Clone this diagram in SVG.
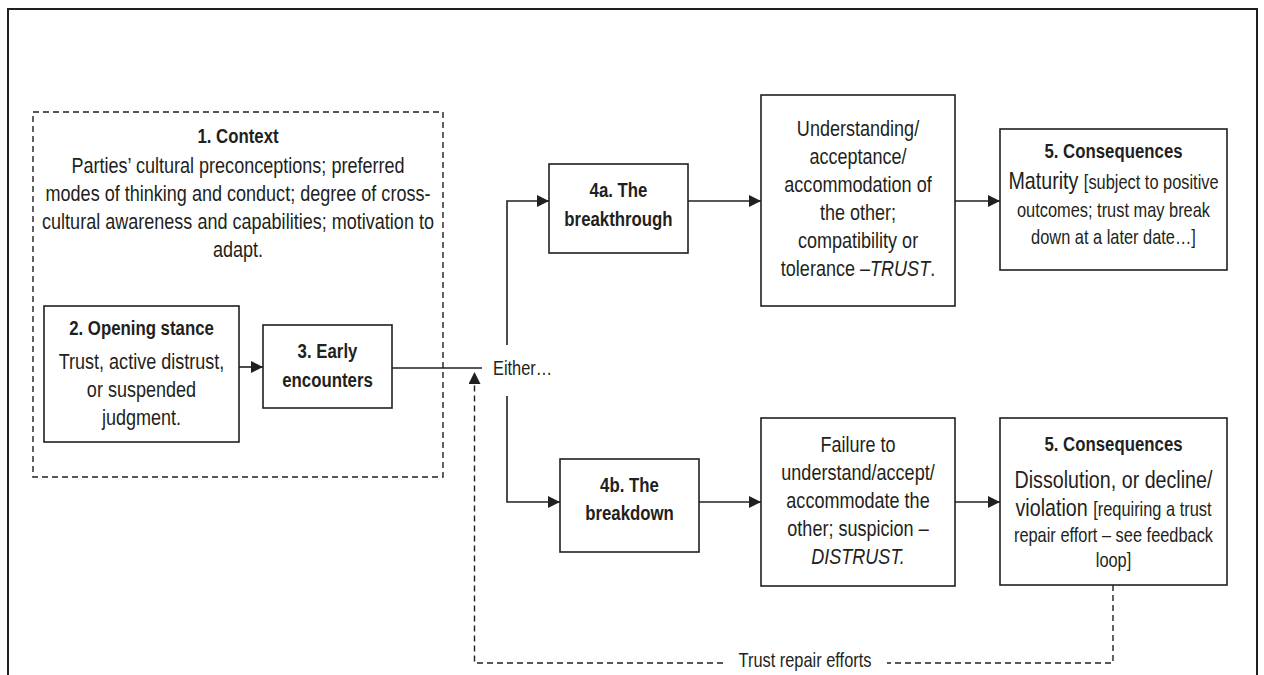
<svg xmlns="http://www.w3.org/2000/svg" width="1264" height="675" viewBox="0 0 1264 675">
<style>
text{font-family:"Liberation Sans",Arial,sans-serif;fill:#231f20;font-size:22px;text-anchor:middle}
.t{font-weight:bold;font-size:20.5px}
.s{font-size:20px}
.l{font-size:24px}
.i{font-style:italic}
.box{fill:#fff;stroke:#231f20;stroke-width:1.6}
.ln{fill:none;stroke:#231f20;stroke-width:1.6}
.dash{fill:none;stroke:#231f20;stroke-width:1.4;stroke-dasharray:6 4}
</style>
<defs>
<marker id="ah" markerUnits="userSpaceOnUse" markerWidth="13" markerHeight="13" refX="12" refY="6" orient="auto">
<path d="M0,0 L12,6 L0,12 z" fill="#231f20"/>
</marker>
</defs>
<rect x="0" y="0" width="1264" height="675" fill="#fff"/>
<rect x="8" y="9" width="1249" height="720" fill="none" stroke="#231f20" stroke-width="2"/>

<g id="context">
<rect x="33" y="112" width="410" height="365" fill="none" stroke="#231f20" stroke-width="1.4" stroke-dasharray="6 4"/>
<g transform="matrix(0.82 0 0 1 238 0)">
<text class="t" x="0" y="143">1. Context</text>
<text x="0" y="173">Parties’ cultural preconceptions; preferred</text>
<text x="0" y="201">modes of thinking and conduct; degree of cross-</text>
<text x="0" y="229">cultural awareness and capabilities; motivation to</text>
<text x="0" y="257">adapt.</text>
</g>
</g>

<g id="connectors">
<path class="ln" d="M239,367 H263" marker-end="url(#ah)"/>
<path class="ln" d="M392,368 H482"/>
<path class="ln" d="M507,345 V201 H549" marker-end="url(#ah)"/>
<path class="ln" d="M507,396 V502 H560" marker-end="url(#ah)"/>
<path class="ln" d="M688,201 H761" marker-end="url(#ah)"/>
<path class="ln" d="M955,201 H1000" marker-end="url(#ah)"/>
<path class="ln" d="M699,502 H761" marker-end="url(#ah)"/>
<path class="ln" d="M955,502 H1000" marker-end="url(#ah)"/>
<path class="dash" d="M1113,585 V663 H887"/>
<path class="dash" d="M723,663 H474.5 V372" marker-end="url(#ah)"/>
<text class="s" transform="matrix(0.82 0 0 1 493 0)" x="0" y="375" style="text-anchor:start">Either…</text>
<text class="s" transform="matrix(0.82 0 0 1 805 0)" x="0" y="667">Trust repair efforts</text>
</g>

<g id="opening">
<rect class="box" x="44" y="306" width="195" height="136"/>
<g transform="matrix(0.82 0 0 1 141.5 0)">
<text class="t" x="0" y="335">2. Opening stance</text>
<text x="0" y="369">Trust, active distrust,</text>
<text x="0" y="397">or suspended</text>
<text x="0" y="425">judgment.</text>
</g>
</g>

<g id="early">
<rect class="box" x="263" y="325" width="129" height="83"/>
<g transform="matrix(0.82 0 0 1 327.5 0)">
<text class="t" x="0" y="358">3. Early</text>
<text class="t" x="0" y="387">encounters</text>
</g>
</g>

<g id="breakthrough">
<rect class="box" x="549" y="164" width="139" height="89"/>
<g transform="matrix(0.82 0 0 1 618.5 0)">
<text class="t" x="0" y="197">4a. The</text>
<text class="t" x="0" y="226">breakthrough</text>
</g>
</g>

<g id="understanding">
<rect class="box" x="761" y="95" width="194" height="211"/>
<g transform="matrix(0.82 0 0 1 858 0)">
<text x="0" y="136">Understanding/</text>
<text x="0" y="164">acceptance/</text>
<text x="0" y="192">accommodation of</text>
<text x="0" y="220">the other;</text>
<text x="0" y="248">compatibility or</text>
<text x="0" y="276">tolerance –<tspan class="i">TRUST</tspan>.</text>
</g>
</g>

<g id="consequences-a">
<rect class="box" x="1000" y="129" width="227" height="141"/>
<g transform="matrix(0.82 0 0 1 1113.5 0)">
<text class="t" x="0" y="158">5. Consequences</text>
<text x="0" y="189"><tspan class="l">Maturity </tspan><tspan class="s">[subject to positive</tspan></text>
<text class="s" x="0" y="217">outcomes; trust may break</text>
<text class="s" x="0" y="244">down at a later date…]</text>
</g>
</g>

<g id="breakdown">
<rect class="box" x="560" y="459" width="139" height="93"/>
<g transform="matrix(0.82 0 0 1 629.5 0)">
<text class="t" x="0" y="492">4b. The</text>
<text class="t" x="0" y="520">breakdown</text>
</g>
</g>

<g id="failure">
<rect class="box" x="761" y="418" width="194" height="168"/>
<g transform="matrix(0.82 0 0 1 858 0)">
<text x="0" y="452">Failure to</text>
<text x="0" y="480">understand/accept/</text>
<text x="0" y="508">accommodate the</text>
<text x="0" y="536">other; suspicion –</text>
<text class="i" x="0" y="564">DISTRUST.</text>
</g>
</g>

<g id="consequences-b">
<rect class="box" x="1000" y="418" width="227" height="167"/>
<g transform="matrix(0.82 0 0 1 1113.5 0)">
<text class="t" x="0" y="451">5. Consequences</text>
<text class="l" x="0" y="488">Dissolution, or decline/</text>
<text x="0" y="516"><tspan class="l">violation </tspan><tspan class="s">[requiring a trust</tspan></text>
<text class="s" x="0" y="542">repair effort – see feedback</text>
<text class="s" x="0" y="567">loop]</text>
</g>
</g>
</svg>
